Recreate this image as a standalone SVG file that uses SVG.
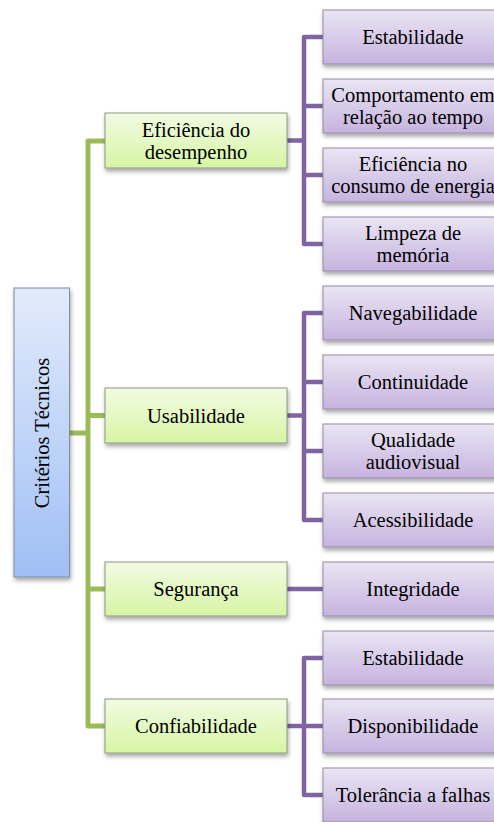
<svg xmlns="http://www.w3.org/2000/svg" width="494" height="822" viewBox="0 0 494 822">
<defs>
<linearGradient id="gRoot" x1="0" y1="0" x2="0" y2="1"><stop offset="0" stop-color="#E2EBFB"/><stop offset="1" stop-color="#A0BFF5"/></linearGradient>
<linearGradient id="gGreen" x1="0" y1="0" x2="0" y2="1"><stop offset="0" stop-color="#F2FBE3"/><stop offset="1" stop-color="#D6F5A4"/></linearGradient>
<linearGradient id="gPurple" x1="0" y1="0" x2="0" y2="1"><stop offset="0" stop-color="#EAE5F3"/><stop offset="1" stop-color="#C6B3DF"/></linearGradient>
<filter id="sh" x="-10%" y="-20%" width="130%" height="160%"><feDropShadow dx="1" dy="3" stdDeviation="2" flood-color="#000" flood-opacity="0.35"/></filter>
<style>
.root{fill:url(#gRoot);stroke:#7D8CA3;stroke-width:1;filter:url(#sh)}
.l1{fill:url(#gGreen);stroke:#8E9682;stroke-width:1;filter:url(#sh)}
.l2{fill:url(#gPurple);stroke:#958AA5;stroke-width:1;filter:url(#sh)}
.t{font-family:"Liberation Serif","Times New Roman",serif;font-size:20.5px;fill:#000;text-anchor:middle}
.rt{font-family:"Liberation Serif","Times New Roman",serif;font-size:20.5px;fill:#000;text-anchor:middle}
.gc{fill:none;stroke:#9BBB59;stroke-width:5;stroke-linejoin:round}
.pc{fill:none;stroke:#8064A2;stroke-width:4.5;stroke-linejoin:round}
</style>
</defs>
<g id="connectors">
<path class="gc" d="M105 141 H88 V726 H105"/>
<path class="gc" d="M69.5 433 H88"/>
<path class="gc" d="M88 415.5 H105"/>
<path class="gc" d="M88 589 H105"/>
<path class="pc" d="M323 37 H304 V244 H323"/>
<path class="pc" d="M287 140.5 H304 M304 106 H323 M304 175 H323"/>
<path class="pc" d="M323 313 H304 V520 H323"/>
<path class="pc" d="M287 415.5 H304 M304 382 H323 M304 451 H323"/>
<path class="pc" d="M287 589 H323"/>
<path class="pc" d="M323 658 H304 V795 H323"/>
<path class="pc" d="M287 726 H323"/>
</g>
<g id="root">
<rect class="root" x="14" y="288" width="55.5" height="289"/>
<text class="rt" transform="translate(48.5,433) rotate(-90)">Critérios Técnicos</text>
</g>
<g id="n-eficiencia">
<rect class="l1" x="105" y="113" width="182" height="55"/>
<text class="t" x="196" y="137">Eficiência do</text>
<text class="t" x="196" y="159">desempenho</text>
</g>
<g id="n-usabilidade">
<rect class="l1" x="105" y="388" width="182" height="55"/>
<text class="t" x="196" y="422.5">Usabilidade</text>
</g>
<g id="n-seguranca">
<rect class="l1" x="105" y="562" width="182" height="54"/>
<text class="t" x="196" y="596">Segurança</text>
</g>
<g id="n-confiabilidade">
<rect class="l1" x="105" y="699" width="182" height="54"/>
<text class="t" x="196" y="733">Confiabilidade</text>
</g>
<g id="c-estabilidade1">
<rect class="l2" x="323" y="10" width="181" height="54"/>
<text class="t" x="413" y="44">Estabilidade</text>
</g>
<g id="c-comportamento">
<rect class="l2" x="323" y="79" width="181" height="54"/>
<text class="t" x="413" y="101.5">Comportamento em</text>
<text class="t" x="413" y="124">relação ao tempo</text>
</g>
<g id="c-eficiencia-energia">
<rect class="l2" x="323" y="148" width="181" height="54"/>
<text class="t" x="413" y="170.5">Eficiência no</text>
<text class="t" x="413" y="193">consumo de energia</text>
</g>
<g id="c-limpeza">
<rect class="l2" x="323" y="217" width="181" height="54"/>
<text class="t" x="413" y="239.5">Limpeza de</text>
<text class="t" x="413" y="262">memória</text>
</g>
<g id="c-navegabilidade">
<rect class="l2" x="323" y="286" width="181" height="54"/>
<text class="t" x="413" y="320">Navegabilidade</text>
</g>
<g id="c-continuidade">
<rect class="l2" x="323" y="355" width="181" height="54"/>
<text class="t" x="413" y="389">Continuidade</text>
</g>
<g id="c-qualidade">
<rect class="l2" x="323" y="424" width="181" height="54"/>
<text class="t" x="413" y="446.5">Qualidade</text>
<text class="t" x="413" y="469">audiovisual</text>
</g>
<g id="c-acessibilidade">
<rect class="l2" x="323" y="493" width="181" height="54"/>
<text class="t" x="413" y="527">Acessibilidade</text>
</g>
<g id="c-integridade">
<rect class="l2" x="323" y="562" width="181" height="54"/>
<text class="t" x="413" y="596">Integridade</text>
</g>
<g id="c-estabilidade2">
<rect class="l2" x="323" y="631" width="181" height="54"/>
<text class="t" x="413" y="665">Estabilidade</text>
</g>
<g id="c-disponibilidade">
<rect class="l2" x="323" y="699" width="181" height="54"/>
<text class="t" x="413" y="733">Disponibilidade</text>
</g>
<g id="c-tolerancia">
<rect class="l2" x="323" y="768" width="181" height="54"/>
<text class="t" x="413" y="802">Tolerância a falhas</text>
</g>
</svg>
